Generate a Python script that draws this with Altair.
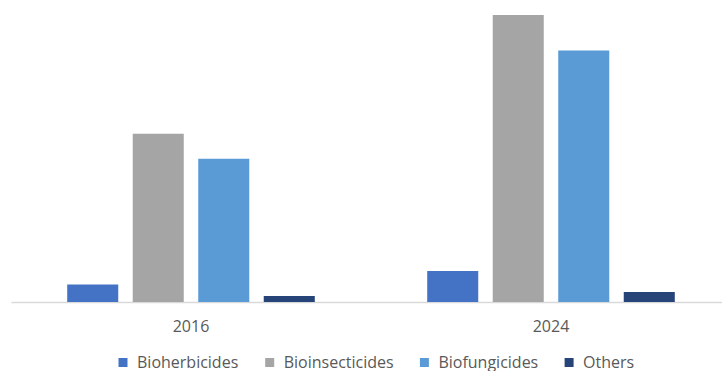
import altair as alt
import pandas as pd

years = ["2016", "2024"]
series = ["Bioherbicides", "Bioinsecticides", "Biofungicides", "Others"]
colors = ["#4472C4", "#A5A5A5", "#5B9BD5", "#264478"]
values_2016 = [17.6, 168.3, 143.3, 6.0]
values_2024 = [31.0, 287.0, 251.6, 10.0]

rows = []
for s, v in zip(series, values_2016):
    rows.append({"year": "2016", "series": s, "value": v})
for s, v in zip(series, values_2024):
    rows.append({"year": "2024", "series": s, "value": v})
df = pd.DataFrame(rows)

font = "Open Sans"

chart = alt.Chart(df).mark_bar().encode(
    x=alt.X("year:N", sort=years, title=None,
            scale=alt.Scale(range=[0, 720], paddingInner=0, paddingOuter=0),
            axis=alt.Axis(labelAngle=0, ticks=False, grid=False,
                          domainColor="#D9D9D9", domainWidth=1.5,
                          labelColor="#595959", labelFont=font, labelFontSize=16,
                          labelPadding=16)),
    xOffset=alt.XOffset("series:N", sort=series,
                        scale=alt.Scale(paddingInner=0.221, paddingOuter=0.858)),
    y=alt.Y("value:Q", title=None,
            scale=alt.Scale(domain=[0, 302], nice=False),
            axis=None),
    color=alt.Color("series:N", sort=series,
                    scale=alt.Scale(domain=series, range=colors),
                    legend=alt.Legend(title=None, orient="none", legendX=104, legendY=354.5,
                                      direction="horizontal", columns=4,
                                      symbolType="square", symbolSize=81,
                                      symbolStrokeWidth=0, labelOffset=6,
                                      columnPadding=22.7, padding=0,
                                      labelFont=font, labelFontSize=16,
                                      labelColor="#595959")),
).properties(
    width=711,
    height=302,
    background="white",
    autosize=alt.AutoSizeParams(type="none"),
    padding={"left": 11, "top": 0, "right": 0, "bottom": 69},
).configure_view(strokeWidth=0, stroke="transparent")

chart.save("out.html", embed_options={"renderer": "svg", "actions": False})
